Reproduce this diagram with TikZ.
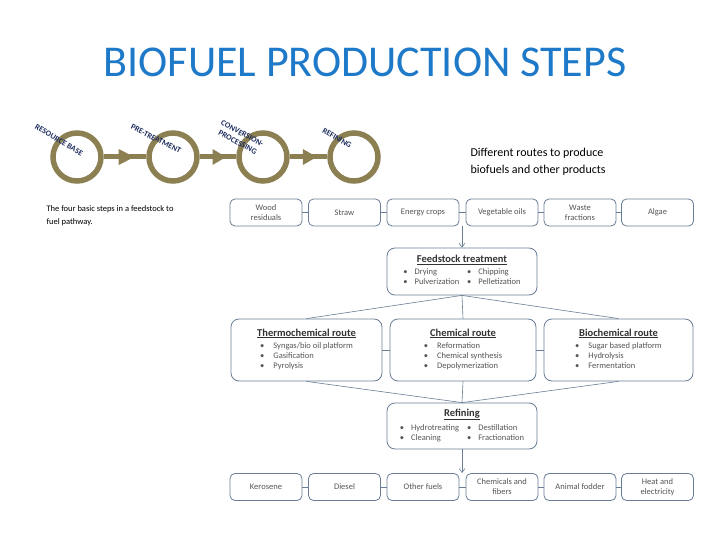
\documentclass[tikz,border=0pt]{standalone}
\usepackage{fontspec}
\setmainfont{Carlito}
\usetikzlibrary{arrows.meta}
\definecolor{titleblue}{RGB}{30,122,200}
\definecolor{olive}{RGB}{140,128,82}
\definecolor{navy}{RGB}{30,45,95}
\definecolor{boxc}{RGB}{105,125,150}
\definecolor{txt}{RGB}{85,85,85}
\definecolor{head}{RGB}{50,50,50}
\tikzset{
  ring/.style={draw=olive, line width=5.5pt, circle, minimum size=48pt, inner sep=0pt},
  steplabel/.style={text=navy, font=\bfseries\fontsize{8}{10}\selectfont, align=center, inner sep=0pt},
  smallbox/.style={draw=boxc, line width=0.8pt, rounded corners=5pt, fill=white, minimum width=72pt, minimum height=27pt, align=center, text=txt, font=\fontsize{8.5}{10}\selectfont, inner sep=1pt},
  bigbox/.style={draw=boxc, line width=0.8pt, rounded corners=8pt, fill=white, align=center, text=txt, font=\fontsize{8.5}{10}\selectfont, inner sep=2pt},
  link/.style={draw=boxc, line width=0.6pt},
  flow/.style={draw=boxc, line width=0.6pt, -{Straight Barb[length=4pt,width=6pt]}},
  fat/.style={draw=olive, line width=5pt},
}
\newcommand{\hd}[1]{{\color{head}\bfseries\fontsize{10.5}{12}\selectfont\underline{#1}}}
\begin{document}
\begin{tikzpicture}[x=1pt,y=-1pt]
\useasboundingbox (0,0) rectangle (720,540);
\fill[white] (0,0) rectangle (720,540);
% title
\node[text=titleblue, font=\fontsize{44}{48}\selectfont] (title) at (365,62) {BIOFUEL PRODUCTION STEPS};
% four steps
\node[ring] (c1) at (77,157) {};
\node[ring] (c2) at (173,157) {};
\node[ring] (c3) at (263,157) {};
\node[ring] (c4) at (354,157) {};
\foreach \a/\b in {c1/c2,c2/c3,c3/c4}{
  \draw[fat] (\a.east) -- (\b.west);
  \path (\a.east) -- (\b.west) coordinate[pos=0.35] (t1) coordinate[pos=0.72] (t2);
  \fill[olive] ([yshift=-8pt]t1) -- ([yshift=8pt]t1) -- (t2) -- cycle;
}
\node[steplabel, rotate=-31] (l1) at (59,140) {RESOURCE BASE};
\node[steplabel, rotate=-27] (l2) at (156,139) {PRE-TREATMENT};
\node[steplabel, rotate=-28] (l3) at (240,138) {CONVERSION-\\PROCESSING};
\node[steplabel, rotate=-30] (l4) at (337,138) {REFINING};
\node[anchor=north west, align=left, font=\fontsize{8.5}{13}\selectfont] (cap1) at (43,202) {The four basic steps in a feedstock to\\fuel pathway.};
\node[anchor=north west, align=left, font=\fontsize{12}{17}\selectfont] (cap2) at (467,145) {Different routes to produce\\biofuels and other products};
% top row
\node[smallbox] (w1) at (266,212.5) {Wood\\residuals};
\node[smallbox] (w2) at (344.5,212.5) {Straw};
\node[smallbox] (w3) at (423,212.5) {Energy crops};
\node[smallbox] (w4) at (502,212.5) {Vegetable oils};
\node[smallbox] (w5) at (580,212.5) {Waste\\fractions};
\node[smallbox] (w6) at (657.5,212.5) {Algae};
\foreach \a/\b in {w1/w2,w2/w3,w3/w4,w4/w5,w5/w6}{\draw[link] (\a.east) -- (\b.west);}
% feedstock
\node[bigbox, minimum width=150pt, minimum height=47pt] (fs) at (462,271.5) {\hd{Feedstock treatment}\\[2pt]
\begin{tabular}{@{}l@{\hspace{8pt}}l@{}}\textbullet\hspace{7pt}Drying & \textbullet\hspace{7pt}Chipping\\\textbullet\hspace{7pt}Pulverization & \textbullet\hspace{7pt}Pelletization\end{tabular}};
\coordinate (topin) at (462,226);
\draw[flow] (topin) -- (fs.north);
% routes
\node[bigbox, minimum width=151pt, minimum height=62pt] (th) at (306.5,350) {\hd{Thermochemical route}\\[2pt]
\begin{tabular}{@{}l@{}}\textbullet\hspace{9pt}Syngas/bio oil platform\\\textbullet\hspace{9pt}Gasification\\\textbullet\hspace{9pt}Pyrolysis\end{tabular}};
\node[bigbox, minimum width=146pt, minimum height=62pt] (ch) at (463,350) {\hd{Chemical route}\\[2pt]
\begin{tabular}{@{}l@{}}\textbullet\hspace{9pt}Reformation\\\textbullet\hspace{9pt}Chemical synthesis\\\textbullet\hspace{9pt}Depolymerization\end{tabular}};
\node[bigbox, minimum width=149pt, minimum height=62pt] (bi) at (618.5,350) {\hd{Biochemical route}\\[2pt]
\begin{tabular}{@{}l@{}}\textbullet\hspace{9pt}Sugar based platform\\\textbullet\hspace{9pt}Hydrolysis\\\textbullet\hspace{9pt}Fermentation\end{tabular}};
\draw[link] (th.east) -- (ch.west);
\draw[link] (ch.east) -- (bi.west);
\draw[link] (fs.south) -- (th.north);
\draw[link] (fs.south) -- (ch.north);
\draw[link] (fs.south) -- (bi.north);
% refining
\node[bigbox, minimum width=150pt, minimum height=46pt] (rf) at (462,426) {\hd{Refining}\\[2pt]
\begin{tabular}{@{}l@{\hspace{8pt}}l@{}}\textbullet\hspace{7pt}Hydrotreating & \textbullet\hspace{7pt}Destillation\\\textbullet\hspace{7pt}Cleaning & \textbullet\hspace{7pt}Fractionation\end{tabular}};
\draw[link] (th.south) -- (rf.north);
\draw[link] (ch.south) -- (rf.north);
\draw[link] (bi.south) -- (rf.north);
% bottom row
\node[smallbox] (p1) at (266,487) {Kerosene};
\node[smallbox] (p2) at (344.5,487) {Diesel};
\node[smallbox] (p3) at (423,487) {Other fuels};
\node[smallbox] (p4) at (502,487) {Chemicals and\\fibers};
\node[smallbox] (p5) at (580,487) {Animal fodder};
\node[smallbox] (p6) at (657.5,487) {Heat and\\electricity};
\foreach \a/\b in {p1/p2,p2/p3,p3/p4,p4/p5,p5/p6}{\draw[link] (\a.east) -- (\b.west);}
\coordinate (botin) at (462,473);
\draw[flow] (rf.south) -- (botin);
\end{tikzpicture}
\end{document}
